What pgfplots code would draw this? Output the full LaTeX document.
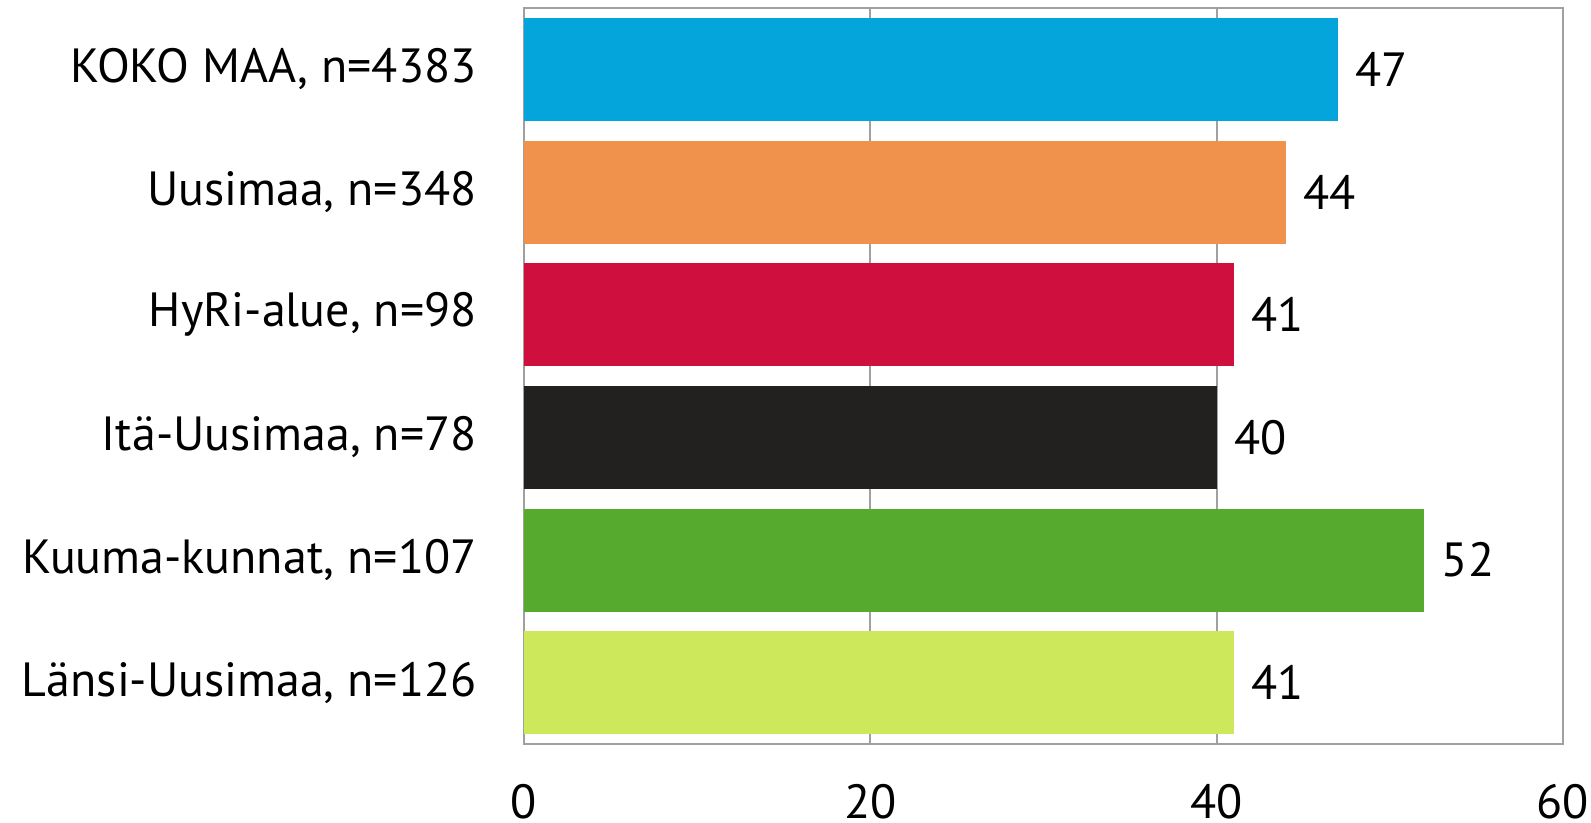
\documentclass[border=0pt]{standalone}
\usepackage{pgfplots}
\pgfplotsset{compat=1.18}
\usepackage{fontspec}
\setmainfont{PT Sans}
\definecolor{cBlue}{RGB}{3,165,218}
\definecolor{cOrange}{RGB}{240,146,76}
\definecolor{cRed}{RGB}{207,16,62}
\definecolor{cBlack}{RGB}{34,33,32}
\definecolor{cGreen}{RGB}{86,170,46}
\definecolor{cLime}{RGB}{205,232,90}
\definecolor{cGrid}{RGB}{160,160,160}
\begin{document}
\begin{tikzpicture}
\begin{axis}[
    scale only axis,
    width=519.5pt, height=368pt,
    xbar=0pt, bar width=51.5pt, bar shift=0pt,
    xmin=0, xmax=60, ymin=0.5, ymax=6.5,
    y dir=reverse,
    xtick={0,20,40,60},
    ytick={1,2,3,4,5,6},
    yticklabels={{KOKO MAA, n=4383},{Uusimaa, n=348},{HyRi-alue, n=98},{Itä-Uusimaa, n=78},{Kuuma-kunnat, n=107},{Länsi-Uusimaa, n=126}},
    major tick length=0pt,
    xmajorgrids, grid style={cGrid, line width=1pt},
    axis line style={cGrid, line width=1pt},
    /pgf/number format/assume math mode=true,
    tick label style={font=\fontsize{24pt}{28pt}\selectfont, inner sep=0pt},
    xticklabel style={anchor=north, yshift=-20pt},
    yticklabel style={anchor=east, xshift=-23.5pt},
    nodes near coords,
    nodes near coords style={font=\fontsize{24pt}{28pt}\selectfont, anchor=west, inner sep=0pt, xshift=8.5pt, text=black},
    clip=false,
  ]
\addplot[fill=cBlue, draw=none] coordinates {(47,1)};
\addplot[fill=cOrange, draw=none] coordinates {(44,2)};
\addplot[fill=cRed, draw=none] coordinates {(41,3)};
\addplot[fill=cBlack, draw=none] coordinates {(40,4)};
\addplot[fill=cGreen, draw=none] coordinates {(52,5)};
\addplot[fill=cLime, draw=none] coordinates {(41,6)};
\end{axis}
\path[use as bounding box] ([xshift=-262pt,yshift=-39.5pt]current axis.south west) rectangle ([xshift=14pt,yshift=4pt]current axis.north east);
\end{tikzpicture}
\end{document}
